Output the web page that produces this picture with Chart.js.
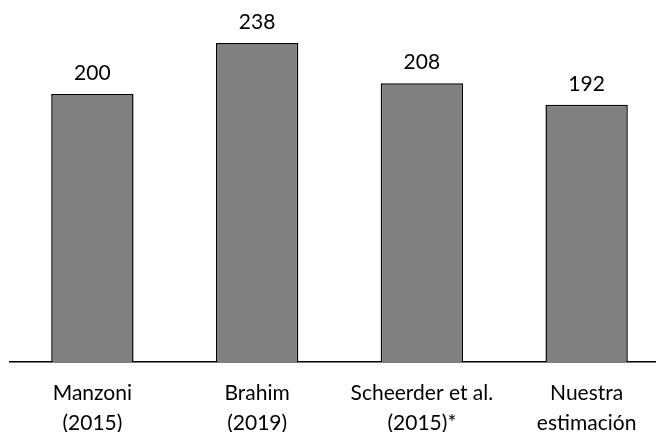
<!DOCTYPE html>
<html>
<head>
<meta charset="utf-8">
<script src="https://cdn.jsdelivr.net/npm/chart.js@4"></script>
<style>
  html, body { margin: 0; padding: 0; background: #fff; overflow: hidden; }
  #wrap { width: 669px; height: 432px; position: relative; }
</style>
</head>
<body>
<div id="wrap"><canvas id="barChart"></canvas></div>
<script>
var categories = [['Manzoni', '(2015)'], ['Brahim', '(2019)'], ['Scheerder et al.', '(2015)*'], ['Nuestra', 'estimación']];
var values = [200, 238, 208, 192];

// dibuja el valor encima de cada barra
var valueLabels = {
    id: 'valueLabels',
    afterDatasetsDraw: function (chart) {
        var ctx = chart.ctx;
        var meta = chart.getDatasetMeta(0);
        ctx.save();
        ctx.font = '21px Lato, "Open Sans", sans-serif';
        ctx.fillStyle = '#000';
        ctx.textAlign = 'center';
        ctx.textBaseline = 'alphabetic';
        meta.data.forEach(function (bar, i) {
            ctx.fillText(values[i], bar.x, bar.y - 14);
        });
        ctx.restore();
    }
};

var ctx = document.getElementById('barChart').getContext('2d');
var barChart = new Chart(ctx, {
    type: 'bar',
    data: {
        labels: categories,
        datasets: [{
            data: values,
            backgroundColor: '#808080',
            borderColor: '#000',
            borderWidth: 1.5,
            barPercentage: 0.5,
            categoryPercentage: 1
        }]
    },
    options: {
        responsive: true,
        maintainAspectRatio: false,
        animation: false,
        layout: { padding: { left: 10, right: 0, top: 27, bottom: 0 } },
        plugins: {
            legend: { display: false },
            tooltip: { enabled: false }
        },
        scales: {
            y: {
                display: false,
                min: 0,
                max: 250
            },
            x: {
                afterFit: function (scale) { scale.height = 70; },
                grid: { display: false, drawTicks: false },
                border: { display: true, color: '#000', width: 1.5 },
                ticks: {
                    color: '#000',
                    padding: 16,
                    maxRotation: 0,
                    font: { family: 'Lato, "Open Sans", sans-serif', size: 21, lineHeight: 1.43 }
                }
            }
        }
    },
    plugins: [valueLabels]
});
</script>
</body>
</html>
